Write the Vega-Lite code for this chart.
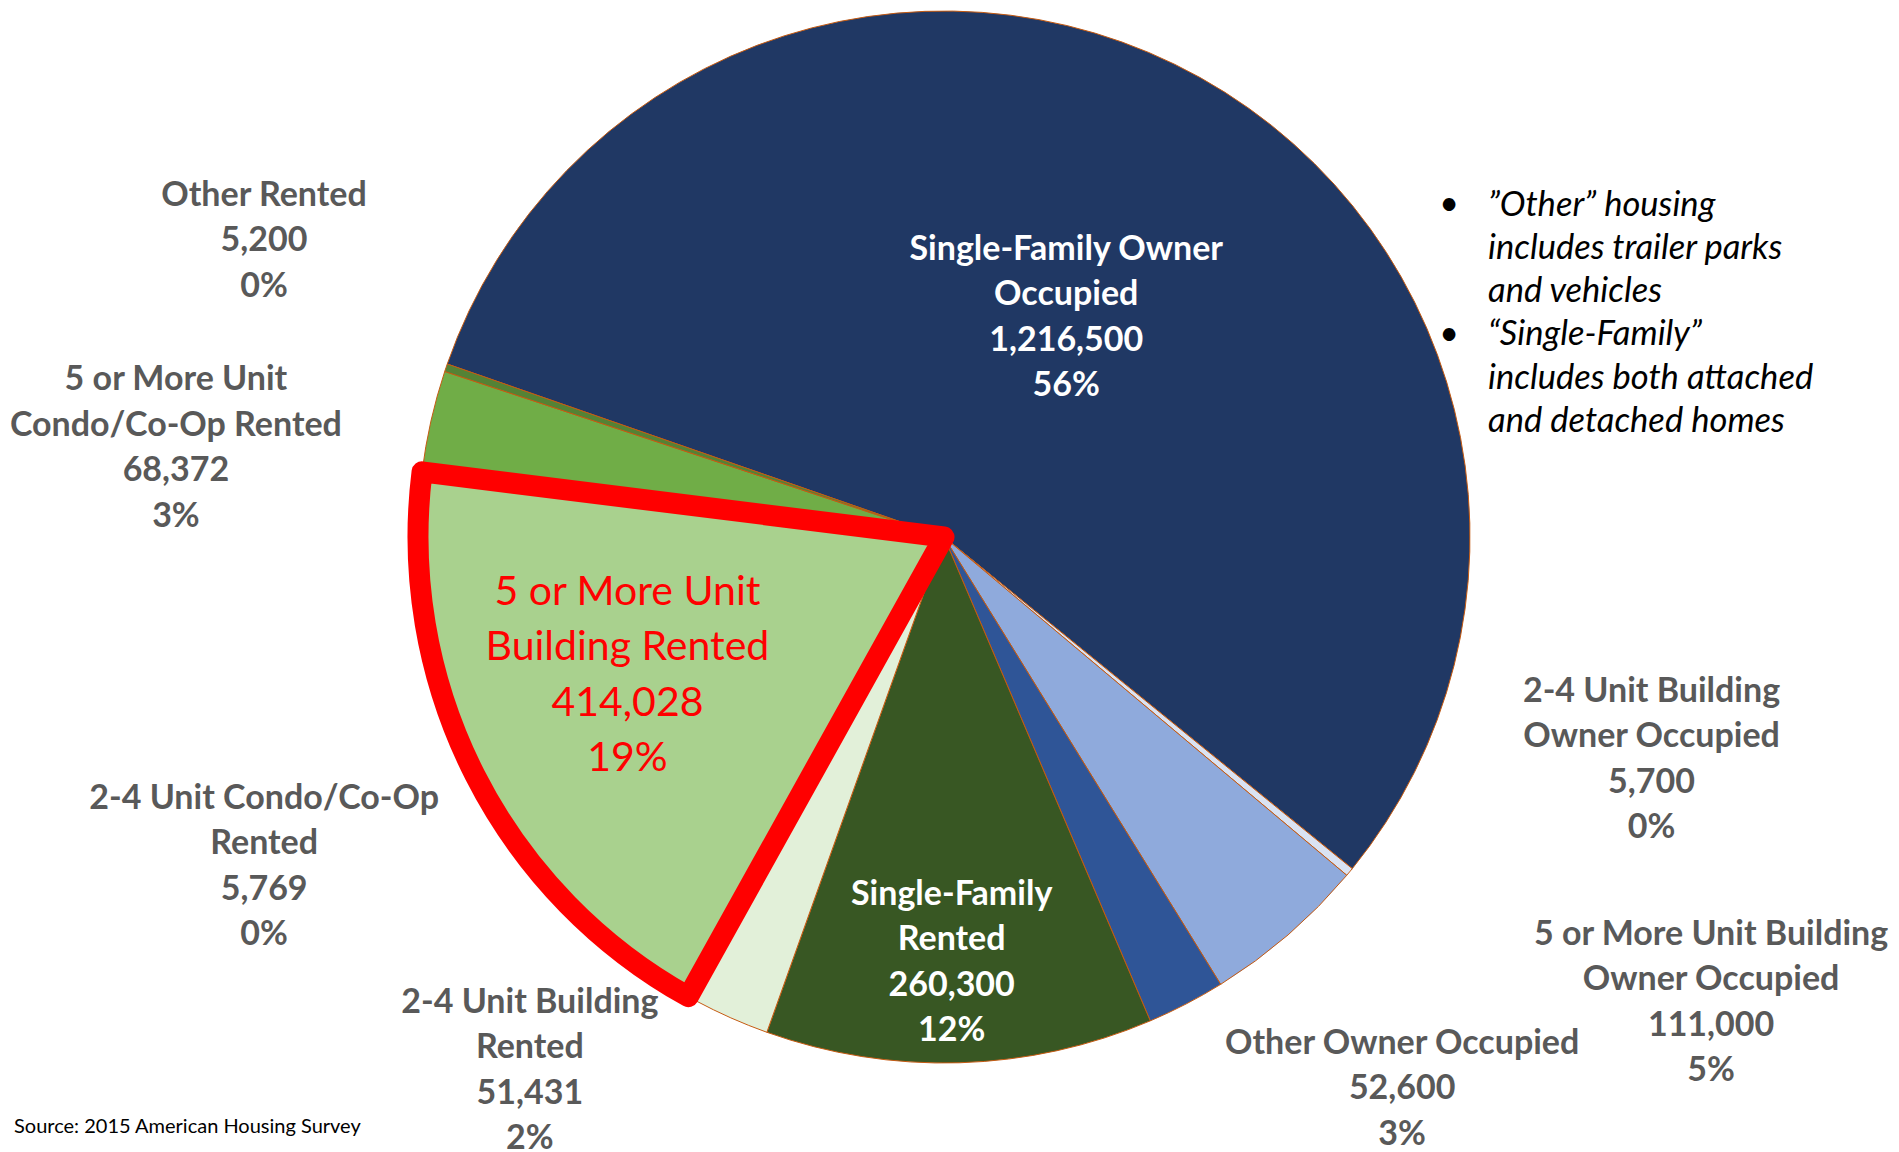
{
  "$schema": "https://vega.github.io/schema/vega-lite/v6.json",
  "autosize": "none",
  "width": 1888,
  "height": 1074,
  "padding": {"left": 0, "top": 0, "right": 11, "bottom": 78},
  "background": "#FFFFFF",
  "config": {"view": {"stroke": null}},
  "datasets": {
    "housing": [
      {"category": "Single-Family Owner Occupied", "value": 1216500, "order": 1, "label": "Single-Family Owner\nOccupied\n1,216,500\n56%"},
      {"category": "2-4 Unit Building Owner Occupied", "value": 5700, "order": 2, "label": "2-4 Unit Building\nOwner Occupied\n5,700\n0%"},
      {"category": "5 or More Unit Building Owner Occupied", "value": 111000, "order": 3, "label": "5 or More Unit Building\nOwner Occupied\n111,000\n5%"},
      {"category": "Other Owner Occupied", "value": 52600, "order": 4, "label": "Other Owner Occupied\n52,600\n3%"},
      {"category": "Single-Family Rented", "value": 260300, "order": 5, "label": "Single-Family\nRented\n260,300\n12%"},
      {"category": "2-4 Unit Building Rented", "value": 51431, "order": 6, "label": "2-4 Unit Building\nRented\n51,431\n2%"},
      {"category": "2-4 Unit Condo/Co-Op Rented", "value": 5769, "order": 7, "label": "2-4 Unit Condo/Co-Op\nRented\n5,769\n0%"},
      {"category": "5 or More Unit Building Rented", "value": 414028, "order": 8, "label": "5 or More Unit\nBuilding Rented\n414,028\n19%"},
      {"category": "5 or More Unit Condo/Co-Op Rented", "value": 68372, "order": 9, "label": "5 or More Unit\nCondo/Co-Op Rented\n68,372\n3%"},
      {"category": "Other Rented", "value": 5200, "order": 10, "label": "Other Rented\n5,200\n0%"}
    ],
    "note1": [
      {"bullet": "•", "note": "”Other” housing\nincludes trailer parks\nand vehicles"}
    ],
    "note2": [
      {"bullet": "•", "note": "“Single-Family”\nincludes both attached\nand detached homes"}
    ],
    "source": [
      {"text": "Source: 2015 American Housing Survey"}
    ]
  },
  "layer": [
    {
      "data": {"name": "housing"},
      "mark": {"type": "arc", "outerRadius": 526, "stroke": "#C55A11", "strokeWidth": 1},
      "encoding": {
        "theta": {"field": "value", "type": "quantitative", "stack": true, "scale": {"range": [-1.2357, 5.0475]}},
        "order": {"field": "order", "type": "quantitative"},
        "color": {
          "field": "category", "type": "nominal", "legend": null,
          "scale": {
            "domain": ["Single-Family Owner Occupied", "2-4 Unit Building Owner Occupied", "5 or More Unit Building Owner Occupied", "Other Owner Occupied", "Single-Family Rented", "2-4 Unit Building Rented", "2-4 Unit Condo/Co-Op Rented", "5 or More Unit Building Rented", "5 or More Unit Condo/Co-Op Rented", "Other Rented"],
            "range": ["#203864", "#DAE3F3", "#8FAADC", "#2F5597", "#385723", "#E2F0D9", "#C5E0B4", "#A9D18E", "#70AD47", "#548235"]
          }
        }
      }
    },
    {
      "data": {"name": "housing"},
      "mark": {"type": "arc", "outerRadius": 526, "fillOpacity": 0, "stroke": "#FF0000", "strokeWidth": 21, "strokeJoin": "round"},
      "encoding": {
        "theta": {"field": "value", "type": "quantitative", "stack": true},
        "order": {"field": "order", "type": "quantitative"},
        "strokeOpacity": {"condition": {"test": "datum.category === '5 or More Unit Building Rented'", "value": 1}, "value": 0}
      }
    },
    {
      "data": {"name": "housing"},
      "mark": {"type": "text", "radius": 251, "dy": -68, "align": "center", "baseline": "middle", "lineBreak": "\n", "font": "Lato", "fontWeight": "bold", "fontSize": 34, "lineHeight": 45.5, "color": "#FFFFFF"},
      "encoding": {
        "theta": {"field": "value", "type": "quantitative", "stack": true},
        "order": {"field": "order", "type": "quantitative"},
        "text": {"condition": {"test": "datum.category === 'Single-Family Owner Occupied'", "field": "label"}, "value": ""}
      }
    },
    {
      "data": {"name": "housing"},
      "mark": {"type": "text", "radius": 426, "dx": -5, "dy": -68, "align": "center", "baseline": "middle", "lineBreak": "\n", "font": "Lato", "fontWeight": "bold", "fontSize": 34, "lineHeight": 45.5, "color": "#FFFFFF"},
      "encoding": {
        "theta": {"field": "value", "type": "quantitative", "stack": true},
        "order": {"field": "order", "type": "quantitative"},
        "text": {"condition": {"test": "datum.category === 'Single-Family Rented'", "field": "label"}, "value": ""}
      }
    },
    {
      "data": {"name": "housing"},
      "mark": {"type": "text", "radius": 346, "dx": -8, "dy": -101, "align": "center", "baseline": "middle", "lineBreak": "\n", "font": "Lato", "fontSize": 41, "lineHeight": 55.5, "color": "#FF0000"},
      "encoding": {
        "theta": {"field": "value", "type": "quantitative", "stack": true},
        "order": {"field": "order", "type": "quantitative"},
        "text": {"condition": {"test": "datum.category === '5 or More Unit Building Rented'", "field": "label"}, "value": ""}
      }
    },
    {
      "data": {"name": "housing"},
      "mark": {"type": "text", "radius": 526, "dx": 302, "dy": -180, "align": "center", "baseline": "middle", "lineBreak": "\n", "font": "Lato", "fontWeight": "bold", "fontSize": 34, "lineHeight": 45.5, "color": "#595959"},
      "encoding": {
        "theta": {"field": "value", "type": "quantitative", "stack": true},
        "order": {"field": "order", "type": "quantitative"},
        "text": {"condition": {"test": "datum.category === '2-4 Unit Building Owner Occupied'", "field": "label"}, "value": ""}
      }
    },
    {
      "data": {"name": "housing"},
      "mark": {"type": "text", "radius": 526, "dx": 423, "dy": 0, "align": "center", "baseline": "middle", "lineBreak": "\n", "font": "Lato", "fontWeight": "bold", "fontSize": 34, "lineHeight": 45.5, "color": "#595959"},
      "encoding": {
        "theta": {"field": "value", "type": "quantitative", "stack": true},
        "order": {"field": "order", "type": "quantitative"},
        "text": {"condition": {"test": "datum.category === '5 or More Unit Building Owner Occupied'", "field": "label"}, "value": ""}
      }
    },
    {
      "data": {"name": "housing"},
      "mark": {"type": "text", "radius": 526, "dx": 216, "dy": 40, "align": "center", "baseline": "middle", "lineBreak": "\n", "font": "Lato", "fontWeight": "bold", "fontSize": 34, "lineHeight": 45.5, "color": "#595959"},
      "encoding": {
        "theta": {"field": "value", "type": "quantitative", "stack": true},
        "order": {"field": "order", "type": "quantitative"},
        "text": {"condition": {"test": "datum.category === 'Other Owner Occupied'", "field": "label"}, "value": ""}
      }
    },
    {
      "data": {"name": "housing"},
      "mark": {"type": "text", "radius": 526, "dx": -201, "dy": -15, "align": "center", "baseline": "middle", "lineBreak": "\n", "font": "Lato", "fontWeight": "bold", "fontSize": 34, "lineHeight": 45.5, "color": "#595959"},
      "encoding": {
        "theta": {"field": "value", "type": "quantitative", "stack": true},
        "order": {"field": "order", "type": "quantitative"},
        "text": {"condition": {"test": "datum.category === '2-4 Unit Building Rented'", "field": "label"}, "value": ""}
      }
    },
    {
      "data": {"name": "housing"},
      "mark": {"type": "text", "radius": 526, "dx": -428, "dy": -200, "align": "center", "baseline": "middle", "lineBreak": "\n", "font": "Lato", "fontWeight": "bold", "fontSize": 34, "lineHeight": 45.5, "color": "#595959"},
      "encoding": {
        "theta": {"field": "value", "type": "quantitative", "stack": true},
        "order": {"field": "order", "type": "quantitative"},
        "text": {"condition": {"test": "datum.category === '2-4 Unit Condo/Co-Op Rented'", "field": "label"}, "value": ""}
      }
    },
    {
      "data": {"name": "housing"},
      "mark": {"type": "text", "radius": 526, "dx": -255, "dy": -41, "align": "center", "baseline": "middle", "lineBreak": "\n", "font": "Lato", "fontWeight": "bold", "fontSize": 34, "lineHeight": 45.5, "color": "#595959"},
      "encoding": {
        "theta": {"field": "value", "type": "quantitative", "stack": true},
        "order": {"field": "order", "type": "quantitative"},
        "text": {"condition": {"test": "datum.category === '5 or More Unit Condo/Co-Op Rented'", "field": "label"}, "value": ""}
      }
    },
    {
      "data": {"name": "housing"},
      "mark": {"type": "text", "radius": 526, "dx": -182, "dy": -172, "align": "center", "baseline": "middle", "lineBreak": "\n", "font": "Lato", "fontWeight": "bold", "fontSize": 34, "lineHeight": 45.5, "color": "#595959"},
      "encoding": {
        "theta": {"field": "value", "type": "quantitative", "stack": true},
        "order": {"field": "order", "type": "quantitative"},
        "text": {"condition": {"test": "datum.category === 'Other Rented'", "field": "label"}, "value": ""}
      }
    },
    {
      "data": {"name": "note1"},
      "mark": {"type": "text", "x": 1449, "y": 205, "align": "center", "baseline": "middle", "font": "Lato", "fontSize": 34, "color": "#000000"},
      "encoding": {"text": {"field": "bullet"}}
    },
    {
      "data": {"name": "note1"},
      "mark": {"type": "text", "x": 1488, "y": 205.5, "align": "left", "baseline": "middle", "lineBreak": "\n", "font": "Lato", "fontStyle": "italic", "fontSize": 34.5, "lineHeight": 43.3, "color": "#000000"},
      "encoding": {"text": {"field": "note"}}
    },
    {
      "data": {"name": "note2"},
      "mark": {"type": "text", "x": 1449, "y": 335, "align": "center", "baseline": "middle", "font": "Lato", "fontSize": 34, "color": "#000000"},
      "encoding": {"text": {"field": "bullet"}}
    },
    {
      "data": {"name": "note2"},
      "mark": {"type": "text", "x": 1488, "y": 335.4, "align": "left", "baseline": "middle", "lineBreak": "\n", "font": "Lato", "fontStyle": "italic", "fontSize": 34.5, "lineHeight": 43.3, "color": "#000000"},
      "encoding": {"text": {"field": "note"}}
    },
    {
      "data": {"name": "source"},
      "mark": {"type": "text", "x": 14, "y": 1133, "align": "left", "baseline": "alphabetic", "font": "Lato", "fontSize": 20, "color": "#000000"},
      "encoding": {"text": {"field": "text"}}
    }
  ]
}
